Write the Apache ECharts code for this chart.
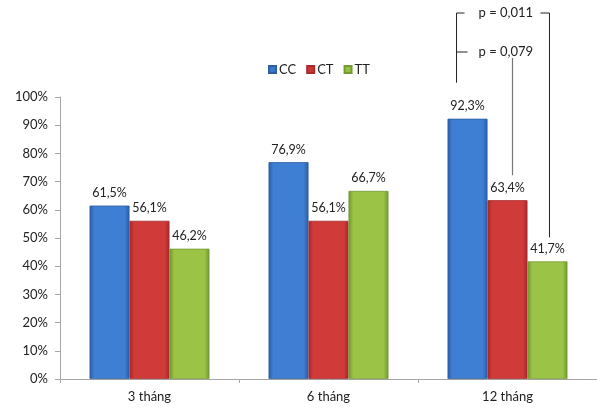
<!DOCTYPE html>
<html>
<head>
<meta charset="utf-8">
<script src="https://cdn.jsdelivr.net/npm/echarts@6/dist/echarts.min.js"></script>
<style>
  html, body { margin: 0; padding: 0; background: #fff; }
  #chart { width: 597px; height: 409px; }
</style>
</head>
<body>
<div id="chart"></div>
<script>
// Response rate by follow-up time and treatment group
const categories = ['3 tháng', '6 tháng', '12 tháng'];
const seriesNames = ['CC', 'CT', 'TT'];
const ccValues = [61.5, 76.9, 92.3];
const ctValues = [56.1, 56.1, 63.4];
const ttValues = [46.2, 66.7, 41.7];
const yTicks = [0, 10, 20, 30, 40, 50, 60, 70, 80, 90, 100];
const pLabels = ['p = 0,011', 'p = 0,079'];

const FONT = 'Lato, "Open Sans", sans-serif';

function barFill(edge, mid) {
  return new echarts.graphic.LinearGradient(0, 0, 1, 0, [
    { offset: 0, color: edge },
    { offset: 0.12, color: mid },
    { offset: 0.88, color: mid },
    { offset: 1, color: edge }
  ]);
}

const palette = [
  { edge: '#2a5aa6', mid: '#3f7fd3', border: '#2f5f9e', legend: '#3a78cc' },
  { edge: '#a8262a', mid: '#d03b39', border: '#a62b2b', legend: '#cc3434' },
  { edge: '#6f9530', mid: '#9bc447', border: '#739a34', legend: '#96c040' }
];

const fmt = v => v.toFixed(1).replace('.', ',') + '%';

const chart = echarts.init(document.getElementById('chart'), null, { renderer: 'canvas' });

const seriesData = [ccValues, ctValues, ttValues];

chart.setOption({
  animation: false,
  textStyle: { fontFamily: FONT },
  legend: {
    data: seriesNames.map((n, i) => ({ name: n, itemStyle: { color: palette[i].legend } })),
    left: 263,
    top: 58,
    itemWidth: 7,
    itemHeight: 7,
    itemGap: 10,
    icon: 'rect',
    textStyle: { fontFamily: FONT, fontSize: 13, color: '#222', padding: [0, 0, 0, -2] }
  },
  grid: { left: 60, right: 0, top: 97, bottom: 30, containLabel: false },
  xAxis: {
    type: 'category',
    data: categories,
    axisLine: { lineStyle: { color: '#a6a6a6', width: 1 } },
    axisTick: { show: true, length: 4, lineStyle: { color: '#a6a6a6' } },
    axisLabel: { fontFamily: FONT, fontSize: 13, color: '#222', margin: 11 }
  },
  yAxis: {
    type: 'value',
    min: yTicks[0],
    max: yTicks[yTicks.length - 1],
    interval: 10,
    splitLine: { show: false },
    axisLine: { show: true, lineStyle: { color: '#a6a6a6', width: 1 } },
    axisTick: { show: true, length: 5, lineStyle: { color: '#a6a6a6' } },
    axisLabel: {
      fontFamily: FONT, fontSize: 13, color: '#222', margin: 12,
      formatter: v => v + '%'
    }
  },
  series: seriesNames.map((name, i) => ({
    name: name,
    type: 'bar',
    data: seriesData[i],
    barGap: '0%',
    barCategoryGap: '33%',
    itemStyle: {
      color: barFill(palette[i].edge, palette[i].mid),
      borderColor: palette[i].border,
      borderWidth: 0.8
    },
    label: {
      show: true,
      position: 'top',
      distance: 6,
      fontFamily: FONT,
      fontSize: 12.5,
      color: '#222',
      formatter: p => fmt(p.value)
    }
  }))
});

// Significance brackets over the 12-month group
(function drawBrackets() {
  const g = 2;
  const c0 = chart.convertToPixel({ xAxisIndex: 0 }, 0);
  const c1 = chart.convertToPixel({ xAxisIndex: 0 }, 1);
  const band = c1 - c0;
  const bw = band * (1 - 0.33) / 3;
  const cx = chart.convertToPixel({ xAxisIndex: 0 }, g);
  const xCC = cx - bw, xCT = cx, xTT = cx + bw;
  const yCC = chart.convertToPixel({ yAxisIndex: 0 }, ccValues[g]);
  const yCT = chart.convertToPixel({ yAxisIndex: 0 }, ctValues[g]);
  const yTT = chart.convertToPixel({ yAxisIndex: 0 }, ttValues[g]);

  const leftX = xCC - 11;
  const topY = 13;
  const midY = 52;
  const textX = leftX + 22;
  const dark = { stroke: '#222', lineWidth: 1 };
  const grey = { stroke: '#777', lineWidth: 1.2 };

  chart.setOption({
    graphic: [
      { type: 'polyline', shape: { points: [[leftX + 8, topY], [leftX, topY], [leftX, yCC - 36]] }, style: Object.assign({ fill: null }, dark), silent: true },
      { type: 'polyline', shape: { points: [[xTT - 7, topY], [xTT + 2, topY], [xTT + 2, yTT - 24]] }, style: Object.assign({ fill: null }, dark), silent: true },
      { type: 'line', shape: { x1: leftX, y1: midY, x2: leftX + 11, y2: midY }, style: dark, silent: true },
      { type: 'line', shape: { x1: xCT + 5, y1: midY + 6, x2: xCT + 5, y2: yCT - 25 }, style: grey, silent: true },
      { type: 'text', x: textX, y: topY, style: { text: pLabels[0], font: '13px ' + FONT, fill: '#222', textVerticalAlign: 'middle', verticalAlign: 'middle' }, silent: true },
      { type: 'text', x: textX, y: midY, style: { text: pLabels[1], font: '13px ' + FONT, fill: '#222', textVerticalAlign: 'middle', verticalAlign: 'middle' }, silent: true }
    ]
  });
})();
</script>
</body>
</html>
